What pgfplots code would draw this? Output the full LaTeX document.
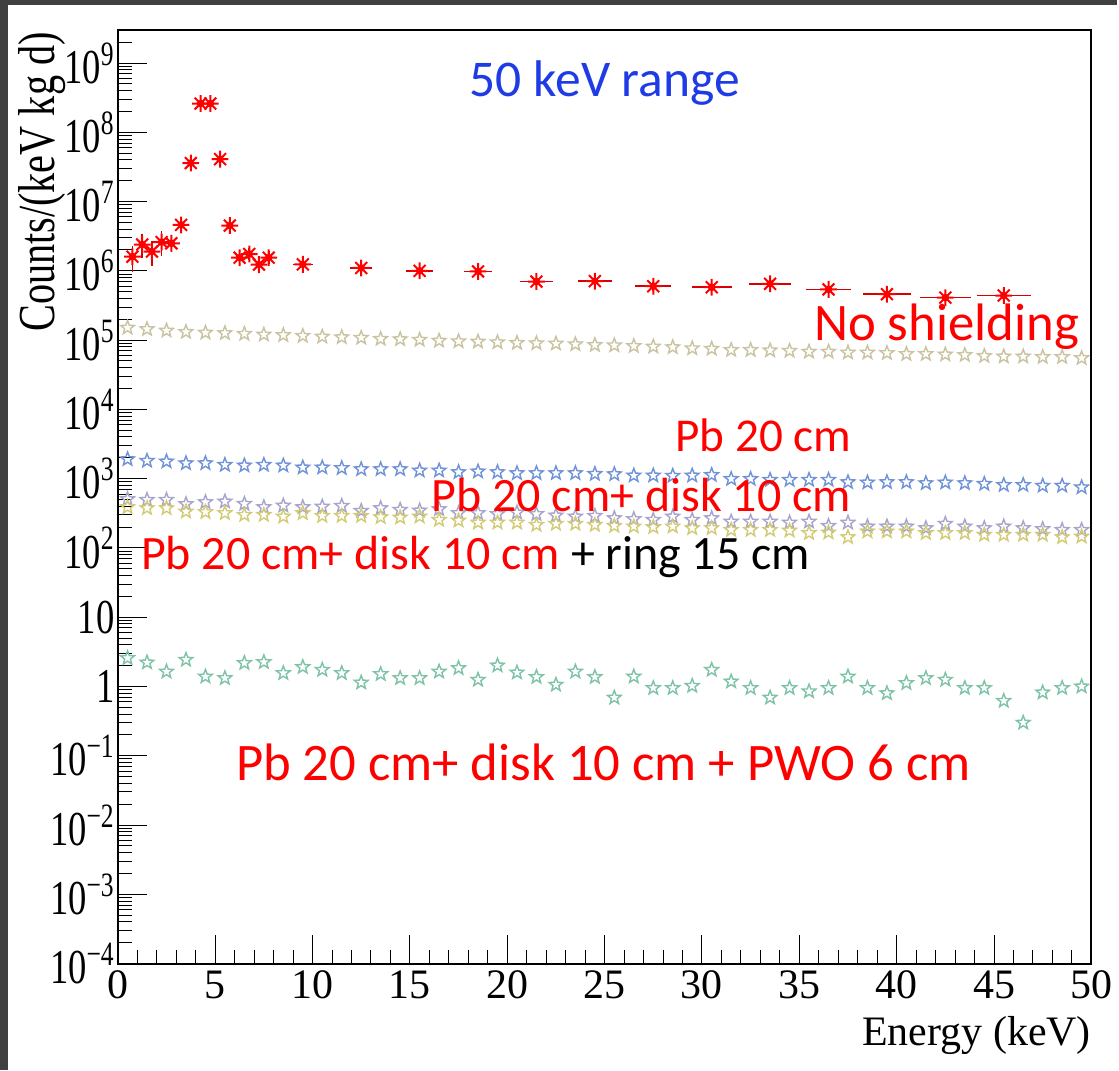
\documentclass[border=0pt]{standalone}
\usepackage{fontspec}
\setmainfont{Liberation Serif}
\newfontfamily\calfont{Carlito}
\usepackage{pgfplots}
\pgfplotsset{compat=1.18}
\usepackage{pgfplotstable}

\definecolor{beigec}{HTML}{C9C3A0}
\definecolor{bluec}{HTML}{6F93D6}
\definecolor{lavc}{HTML}{A8A4CC}
\definecolor{yelc}{HTML}{D2CB73}
\definecolor{greenc}{HTML}{7DC3A5}
\definecolor{titleblue}{HTML}{1F3BE6}
\definecolor{framegray}{HTML}{404040}

% open five-point star (ROOT marker 30)
\pgfdeclareplotmark{ostar}{%
  \pgfpathmoveto{\pgfpointpolar{90}{\pgfplotmarksize}}%
  \pgfpathlineto{\pgfpointpolar{126}{0.42\pgfplotmarksize}}%
  \pgfpathlineto{\pgfpointpolar{162}{\pgfplotmarksize}}%
  \pgfpathlineto{\pgfpointpolar{198}{0.42\pgfplotmarksize}}%
  \pgfpathlineto{\pgfpointpolar{234}{\pgfplotmarksize}}%
  \pgfpathlineto{\pgfpointpolar{270}{0.42\pgfplotmarksize}}%
  \pgfpathlineto{\pgfpointpolar{306}{\pgfplotmarksize}}%
  \pgfpathlineto{\pgfpointpolar{342}{0.42\pgfplotmarksize}}%
  \pgfpathlineto{\pgfpointpolar{18}{\pgfplotmarksize}}%
  \pgfpathlineto{\pgfpointpolar{54}{0.42\pgfplotmarksize}}%
  \pgfpathclose\pgfusepathqstroke}
% eight-ray asterisk with filled centre
\pgfdeclareplotmark{rootast}{%
  \pgfpathmoveto{\pgfqpoint{-\pgfplotmarksize}{0pt}}\pgfpathlineto{\pgfqpoint{\pgfplotmarksize}{0pt}}%
  \pgfpathmoveto{\pgfqpoint{0pt}{-\pgfplotmarksize}}\pgfpathlineto{\pgfqpoint{0pt}{\pgfplotmarksize}}%
  \pgfpathmoveto{\pgfqpoint{-0.707\pgfplotmarksize}{-0.707\pgfplotmarksize}}\pgfpathlineto{\pgfqpoint{0.707\pgfplotmarksize}{0.707\pgfplotmarksize}}%
  \pgfpathmoveto{\pgfqpoint{-0.707\pgfplotmarksize}{0.707\pgfplotmarksize}}\pgfpathlineto{\pgfqpoint{0.707\pgfplotmarksize}{-0.707\pgfplotmarksize}}%
  \pgfusepathqstroke
  \pgfpathcircle{\pgfpointorigin}{0.45\pgfplotmarksize}\pgfusepathqfill}

\newcommand{\ex}[1]{10\textsuperscript{#1}}

% no shielding, measured
\pgfplotstableread{
x y ex eyp eym
0.75 1.6e6 0 0.35e6 0.5e6
1.25 2.4e6 0 0.55e6 0.6e6
1.75 1.9e6 0 0.45e6 0.55e6
2.25 2.6e6 0 0.6e6 0.7e6
2.75 2.5e6 0 0.3e6 0.3e6
3.25 4.6e6 0 0.3e6 0.3e6
3.75 3.6e7 0 0 0
4.25 2.6e8 0 0 0
4.75 2.6e8 0 0 0
5.25 4.1e7 0 0 0
5.75 4.5e6 0 0 0
6.25 1.55e6 0 0.1e6 0.1e6
6.75 1.75e6 0 0.1e6 0.1e6
7.25 1.23e6 0 0.1e6 0.1e6
7.75 1.55e6 0 0.1e6 0.1e6
9.5 1.24e6 0.3 0 0
12.5 1.1e6 0.35 0 0
15.5 1.0e6 0.45 0 0
18.5 9.8e5 0.5 0 0
21.5 7.0e5 0.6 0 0
24.5 7.1e5 0.65 0 0
27.5 6.0e5 0.7 0 0
30.5 5.8e5 0.8 0 0
33.5 6.5e5 0.85 0 0
36.5 5.4e5 0.92 0 0
39.5 4.6e5 1.0 0 0
42.5 4.1e5 1.08 0 0
45.5 4.4e5 1.17 0 0
}\noshield

% simulated spectra, 1 keV bins
\pgfplotstableread{
x nosh pb pbdisk pbring pwo
0.5 1.51e5 1910 506 388 2.57
1.5 1.44e5 1810 494 375 2.22
2.5 1.37e5 1770 494 375 1.64
3.5 1.31e5 1670 429 335 2.43
4.5 1.28e5 1670 458 329 1.39
5.5 1.26e5 1580 468 318 1.32
6.5 1.23e5 1550 433 300 2.18
7.5 1.20e5 1580 388 300 2.25
8.5 1.18e5 1550 409 284 1.56
9.5 1.15e5 1450 388 318 1.91
10.5 1.12e5 1450 395 290 1.74
11.5 1.10e5 1420 405 290 1.56
12.5 1.08e5 1370 343 290 1.14
13.5 1.04e5 1370 375 278 1.51
14.5 1.03e5 1370 355 275 1.32
15.5 1.01e5 1310 347 284 1.32
16.5 9.8e4 1310 363 254 1.64
17.5 9.6e4 1240 318 248 1.84
18.5 9.5e4 1270 318 232 1.25
19.5 9.3e4 1240 308 232 2.01
20.5 9.1e4 1200 324 232 1.59
21.5 9.0e4 1200 308 215 1.37
22.5 8.9e4 1200 294 223 1.06
23.5 8.7e4 1200 284 223 1.64
24.5 8.5e4 1170 290 215 1.37
25.5 8.4e4 1160 269 208 0.69
26.5 8.2e4 1110 261 204 1.39
27.5 8.05e4 1110 254 200 0.95
28.5 7.9e4 1100 284 204 0.95
29.5 7.6e4 1110 254 193 1.02
30.5 7.5e4 1130 269 193 1.74
31.5 7.2e4 990 240 182 1.18
32.5 7.2e4 990 240 182 0.95
33.5 7.1e4 960 240 182 0.69
34.5 7.0e4 960 232 178 0.95
35.5 6.8e4 960 240 164 0.85
36.5 6.8e4 960 208 167 0.95
37.5 6.6e4 890 232 143 1.39
38.5 6.6e4 880 204 173 0.95
39.5 6.5e4 890 204 173 0.80
40.5 6.3e4 890 204 173 1.12
41.5 6.3e4 860 193 164 1.32
42.5 6.2e4 880 223 164 1.25
43.5 6.1e4 860 204 164 0.95
44.5 5.9e4 840 193 155 0.95
45.5 5.8e4 810 204 155 0.62
46.5 5.8e4 810 193 155 0.30
47.5 5.7e4 790 187 155 0.82
48.5 5.7e4 790 182 143 0.95
49.5 5.5e4 750 182 146 1.00
}\sims

\begin{document}
\begin{tikzpicture}
% slide background, 1 px = 0.5pt
\begin{scope}[x=0.5pt, y=-0.5pt]
  \fill[framegray] (0,0) rectangle (1119,1072);
  \fill[white] (8,5) rectangle (1119,1072);
\end{scope}

\begin{axis}[
  at={(59pt,-482.5pt)}, anchor=south west,
  scale only axis,
  width=487.5pt, height=467.5pt,
  xmin=0, xmax=50,
  ymode=log, ymin=1e-4, ymax=3e9,
  axis line style={line width=1pt},
  tick align=inside,
  xtick pos=bottom, ytick pos=left,
  major tick length=14.5pt, minor tick length=7pt,
  tick style={black, line width=0.5pt},
  xtick={0,5,...,50},
  minor x tick num=4,
  ytick={1e-4,1e-3,1e-2,1e-1,1,10,1e2,1e3,1e4,1e5,1e6,1e7,1e8,1e9},
  yticklabels={\ex{−4},\ex{−3},\ex{−2},\ex{−1},1,10,\ex{2},\ex{3},\ex{4},\ex{5},\ex{6},\ex{7},\ex{8},\ex{9}},
  minor ytick={
    2e-4,3e-4,4e-4,5e-4,6e-4,7e-4,8e-4,9e-4,
    2e-3,3e-3,4e-3,5e-3,6e-3,7e-3,8e-3,9e-3,
    2e-2,3e-2,4e-2,5e-2,6e-2,7e-2,8e-2,9e-2,
    2e-1,3e-1,4e-1,5e-1,6e-1,7e-1,8e-1,9e-1,
    2,3,4,5,6,7,8,9,
    20,30,40,50,60,70,80,90,
    2e2,3e2,4e2,5e2,6e2,7e2,8e2,9e2,
    2e3,3e3,4e3,5e3,6e3,7e3,8e3,9e3,
    2e4,3e4,4e4,5e4,6e4,7e4,8e4,9e4,
    2e5,3e5,4e5,5e5,6e5,7e5,8e5,9e5,
    2e6,3e6,4e6,5e6,6e6,7e6,8e6,9e6,
    2e7,3e7,4e7,5e7,6e7,7e7,8e7,9e7,
    2e8,3e8,4e8,5e8,6e8,7e8,8e8,9e8,
    2e9},
  /pgf/number format/assume math mode=true,
  xticklabel style={font=\fontsize{21}{21}\selectfont},
  yticklabel style={font=\fontsize{24.4}{24.4}\selectfont, xscale=0.75, inner sep=1pt, xshift=-1pt},
]
\addplot[only marks, mark=ostar, mark size=3.6pt, color=beigec, mark options={line width=0.7pt}]
  table[x=x, y=nosh] {\sims};
\addplot[only marks, mark=ostar, mark size=3.6pt, color=bluec, mark options={line width=0.7pt}]
  table[x=x, y=pb] {\sims};
\addplot[only marks, mark=ostar, mark size=3.6pt, color=lavc, mark options={line width=0.7pt}]
  table[x=x, y=pbdisk] {\sims};
\addplot[only marks, mark=ostar, mark size=3.6pt, color=yelc, mark options={line width=0.7pt}]
  table[x=x, y=pbring] {\sims};
\addplot[only marks, mark=ostar, mark size=3.6pt, color=greenc, mark options={line width=0.7pt}]
  table[x=x, y=pwo] {\sims};
\addplot[only marks, mark=rootast, mark size=4.2pt, color=red, mark options={line width=1pt},
  error bars/.cd, x dir=both, x explicit, y dir=both, y explicit,
  error bar style={line width=0.8pt, red!85!black},
  error mark options={mark size=2.2pt, line width=0.8pt, red!85!black}]
  table[x=x, y=y, x error=ex, y error plus=eyp, y error minus=eym] {\noshield};
\end{axis}

\begin{scope}[x=0.5pt, y=-0.5pt]
  \node[rotate=90, xscale=0.775, anchor=base east, inner sep=0pt, font=\fontsize{26}{26}\selectfont] at (55,32) {Counts/(keV kg d)};
  \node[anchor=base east, inner sep=0pt, font=\fontsize{21}{21}\selectfont] at (1093,1047) {Energy (keV)};
  \node[anchor=base west, inner sep=0pt, font=\calfont\fontsize{25.8}{25.8}\selectfont, text=titleblue] at (470,97) {50 keV range};
  \node[anchor=base west, inner sep=0pt, font=\calfont\fontsize{26.4}{26.4}\selectfont, text=red] at (815,341) {No shielding};
  \node[anchor=base west, inner sep=0pt, font=\calfont\fontsize{23.6}{23.6}\selectfont, text=red] at (676,452) {Pb 20 cm};
  \node[anchor=base west, inner sep=0pt, font=\calfont\fontsize{24}{24}\selectfont, text=red] at (432,512) {Pb 20 cm+ disk 10 cm};
  \node[anchor=base west, inner sep=0pt, font=\calfont\fontsize{24}{24}\selectfont] at (141,570) {\textcolor{red}{Pb 20 cm+ disk 10 cm} + ring 15 cm};
  \node[anchor=base west, inner sep=0pt, font=\calfont\fontsize{26.4}{26.4}\selectfont, text=red] at (236,782) {Pb 20 cm+ disk 10 cm + PWO 6 cm};
\end{scope}
\end{tikzpicture}
\end{document}
